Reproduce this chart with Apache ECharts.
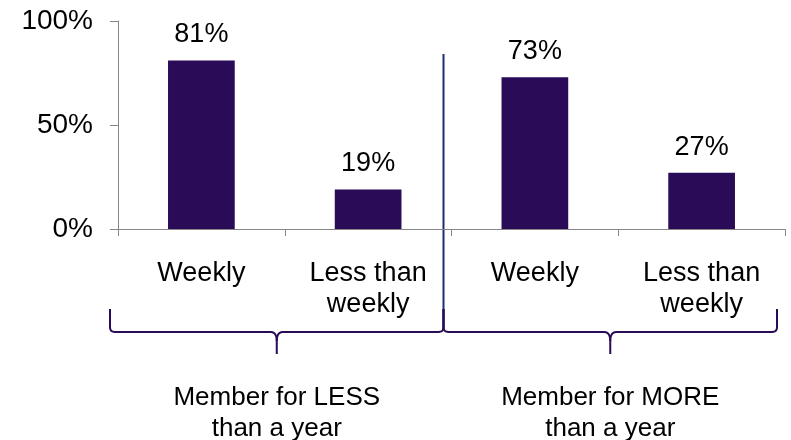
<!DOCTYPE html>
<html>
<head>
<meta charset="utf-8">
<script src="https://cdn.jsdelivr.net/npm/echarts@6/dist/echarts.min.js"></script>
<style>
  html, body { margin: 0; padding: 0; background: #fff; }
  #chart { width: 791px; height: 440px; }
</style>
</head>
<body>
<div id="chart"></div>
<script>
// Frequency by membership length
const categories = ['Weekly', 'Less than\nweekly', 'Weekly', 'Less than\nweekly'];
const shares = [81, 19, 73, 27];
const groupLabels = ['Member for LESS\nthan a year', 'Member for MORE\nthan a year'];
const yTicks = [0, 50, 100];

const FONT = 'Liberation Sans, Arial, sans-serif';
const GRID = { left: 118, right: 6, top: 21, bottom: 211 };
const W = 791, H = 440;

const chart = echarts.init(document.getElementById('chart'), null, { renderer: 'canvas' });

// sample a quadratic curve into polyline points
function quad(p0, c, p1, n) {
  const pts = [];
  for (let i = 0; i <= n; i++) {
    const t = i / n, u = 1 - t;
    pts.push([u * u * p0[0] + 2 * u * t * c[0] + t * t * p1[0],
              u * u * p0[1] + 2 * u * t * c[1] + t * t * p1[1]]);
  }
  return pts;
}

// Curly brace under a group of categories, tip pointing down at the middle
function bracePieces(x0, x1, yTop, yLine, yTip) {
  const xm = (x0 + x1) / 2;
  const left = [[x0, yTop]]
    .concat(quad([x0, yLine - 5], [x0, yLine], [x0 + 5, yLine], 6))
    .concat(quad([xm - 6, yLine], [xm, yLine], [xm, yLine + 9], 6))
    .concat([[xm, yTip]]);
  const right = quad([xm, yLine + 9], [xm, yLine], [xm + 6, yLine], 6)
    .concat(quad([x1 - 5, yLine], [x1, yLine], [x1, yLine - 5], 6))
    .concat([[x1, yTop]]);
  return [left, right];
}

function buildGraphics() {
  const plotW = W - GRID.left - GRID.right;
  const step = plotW / categories.length;
  const shift = -8;
  const els = [];
  // vertical divider between the two membership groups
  const xDiv = GRID.left + 2 * step + shift;
  els.push({
    type: 'line', silent: true,
    shape: { x1: xDiv, y1: 54, x2: xDiv, y2: 330 },
    style: { stroke: '#1B2F6E', lineWidth: 2 }
  });
  groupLabels.forEach((txt, g) => {
    const x0 = GRID.left + g * 2 * step + shift;
    const x1 = x0 + 2 * step;
    bracePieces(x0, x1, 309, 332, 354).forEach(pts => {
      els.push({
        type: 'polyline', silent: true,
        shape: { points: pts },
        style: { fill: null, stroke: '#2A0B57', lineWidth: 2 }
      });
    });
    els.push({
      type: 'text', silent: true,
      x: (x0 + x1) / 2, y: 382,
      style: {
        text: txt, font: '26px ' + FONT, fill: '#000',
        align: 'center', verticalAlign: 'top', lineHeight: 31
      }
    });
  });
  return els;
}

chart.setOption({
  animation: false,
  backgroundColor: '#fff',
  grid: GRID,
  xAxis: {
    type: 'category',
    data: categories,
    boundaryGap: true,
    axisLine: { show: true, lineStyle: { color: '#868686', width: 1 } },
    axisTick: { show: true, alignWithLabel: false, length: 7, lineStyle: { color: '#868686' } },
    axisLabel: {
      color: '#000', fontFamily: FONT, fontSize: 27, lineHeight: 31,
      margin: 29, interval: 0
    }
  },
  yAxis: {
    type: 'value',
    min: yTicks[0], max: yTicks[yTicks.length - 1], interval: yTicks[1] - yTicks[0],
    splitLine: { show: false },
    axisLine: { show: true, lineStyle: { color: '#868686', width: 1 } },
    axisTick: { show: true, length: 8, lineStyle: { color: '#868686' } },
    axisLabel: {
      color: '#000', fontFamily: FONT, fontSize: 28, margin: 25,
      formatter: '{value}%'
    }
  },
  series: [{
    type: 'bar',
    data: shares,
    barWidth: '40%',
    itemStyle: { color: '#2A0B57' },
    label: {
      show: true, position: 'top', distance: 12,
      color: '#000', fontFamily: FONT, fontSize: 27,
      formatter: p => p.value + '%'
    }
  }],
  graphic: buildGraphics()
});
</script>
</body>
</html>
